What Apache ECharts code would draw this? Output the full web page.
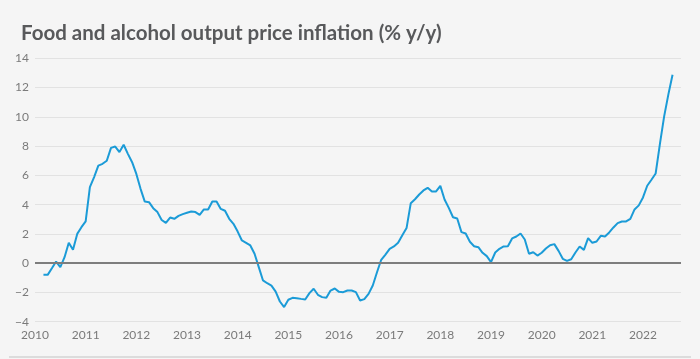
<!DOCTYPE html>
<html>
<head>
<meta charset="utf-8">
<script src="https://cdn.jsdelivr.net/npm/echarts@6/dist/echarts.min.js"></script>
<style>
html,body{margin:0;padding:0;background:#f5f5f5;}
#chart{width:700px;height:359px;}
</style>
</head>
<body>
<div id="chart"></div>
<script>
// Monthly series, first observation March 2010, last August 2022
const startYear = 2010;
const startMonth = 3; // March
const inflation = [
  -0.80, -0.80, -0.35, 0.11, -0.27, 0.41, 1.39, 0.91, 2.00, 2.46,
  2.85, 5.19, 5.88, 6.67, 6.79, 7.00, 7.88, 7.97, 7.59, 8.09,
  7.47, 6.90, 6.10, 5.08, 4.21, 4.17, 3.76, 3.49, 2.95, 2.75,
  3.12, 3.03, 3.23, 3.35, 3.44, 3.53, 3.49, 3.30, 3.67, 3.67,
  4.21, 4.21, 3.71, 3.58, 3.03, 2.69, 2.16, 1.55, 1.39, 1.21,
  0.64, -0.27, -1.18, -1.37, -1.53, -1.94, -2.62, -3.00, -2.50, -2.37,
  -2.39, -2.44, -2.48, -2.05, -1.75, -2.16, -2.32, -2.37, -1.87, -1.73,
  -1.96, -1.98, -1.87, -1.87, -1.98, -2.55, -2.46, -2.10, -1.53, -0.62,
  0.23, 0.59, 0.98, 1.14, 1.39, 1.91, 2.40, 4.10, 4.37, 4.69,
  4.97, 5.15, 4.90, 4.90, 5.28, 4.35, 3.78, 3.14, 3.05, 2.12,
  2.03, 1.46, 1.16, 1.09, 0.71, 0.48, 0.07, 0.73, 0.98, 1.14,
  1.16, 1.69, 1.82, 2.03, 1.62, 0.64, 0.75, 0.52, 0.71, 1.00,
  1.23, 1.30, 0.84, 0.30, 0.16, 0.27, 0.73, 1.14, 0.91, 1.71,
  1.39, 1.48, 1.87, 1.82, 2.10, 2.44, 2.74, 2.85, 2.85, 3.03,
  3.67, 3.95, 4.49, 5.29, 5.70, 6.13, 8.14, 10.01, 11.52, 12.88
];
const yearTicks = [2010, 2011, 2012, 2013, 2014, 2015, 2016, 2017, 2018, 2019, 2020, 2021, 2022];
const yTicks = [-4, -2, 0, 2, 4, 6, 8, 10, 12, 14];
const titleText = 'Food and alcohol output price inflation (% y/y)';

const points = inflation.map((v, i) => [startYear + (startMonth - 1 + i) / 12, v]);

const chart = echarts.init(document.getElementById('chart'), null, {renderer: 'canvas'});
chart.setOption({
  backgroundColor: '#f5f5f5',
  animation: false,
  title: {
    text: titleText,
    left: 16,
    top: 18,
    textStyle: {
      fontFamily: 'Lato',
      fontWeight: 'bold',
      fontSize: 20.5,
      color: '#58595b'
    }
  },
  grid: {left: 35, right: 19, top: 58.3, bottom: 37.3, containLabel: false},
  xAxis: {
    type: 'value',
    min: yearTicks[0],
    max: 2022.75,
    interval: 1,
    axisLine: {show: false},
    axisTick: {show: false},
    splitLine: {show: false},
    axisLabel: {
      color: '#7a7a7a',
      fontFamily: 'Lato',
      fontSize: 12,
      margin: 7,
      showMaxLabel: false,
      formatter: v => yearTicks.includes(Math.round(v * 1000) / 1000) ? String(v) : ''
    }
  },
  yAxis: {
    type: 'value',
    min: yTicks[0],
    max: yTicks[yTicks.length - 1],
    interval: 2,
    axisLine: {show: false},
    axisTick: {show: false},
    splitLine: {lineStyle: {color: '#e2e2e2', width: 1}},
    axisLabel: {
      color: '#7a7a7a',
      fontFamily: 'Lato',
      fontSize: 12,
      margin: 6,
      formatter: v => String(v).replace('-', '\u2212')
    }
  },
  series: [{
    type: 'line',
    data: points,
    showSymbol: false,
    symbol: 'none',
    lineStyle: {color: '#1b9bd7', width: 2},
    markLine: {
      silent: true,
      symbol: 'none',
      label: {show: false},
      lineStyle: {color: '#7d7d7d', width: 2, type: 'solid'},
      data: [{yAxis: 0}]
    },
    z: 3
  }],
  graphic: [{
    type: 'line',
    shape: {x1: 9, y1: 357, x2: 691, y2: 357},
    style: {stroke: '#dcdcdc', lineWidth: 2}
  }]
});
</script>
</body>
</html>
